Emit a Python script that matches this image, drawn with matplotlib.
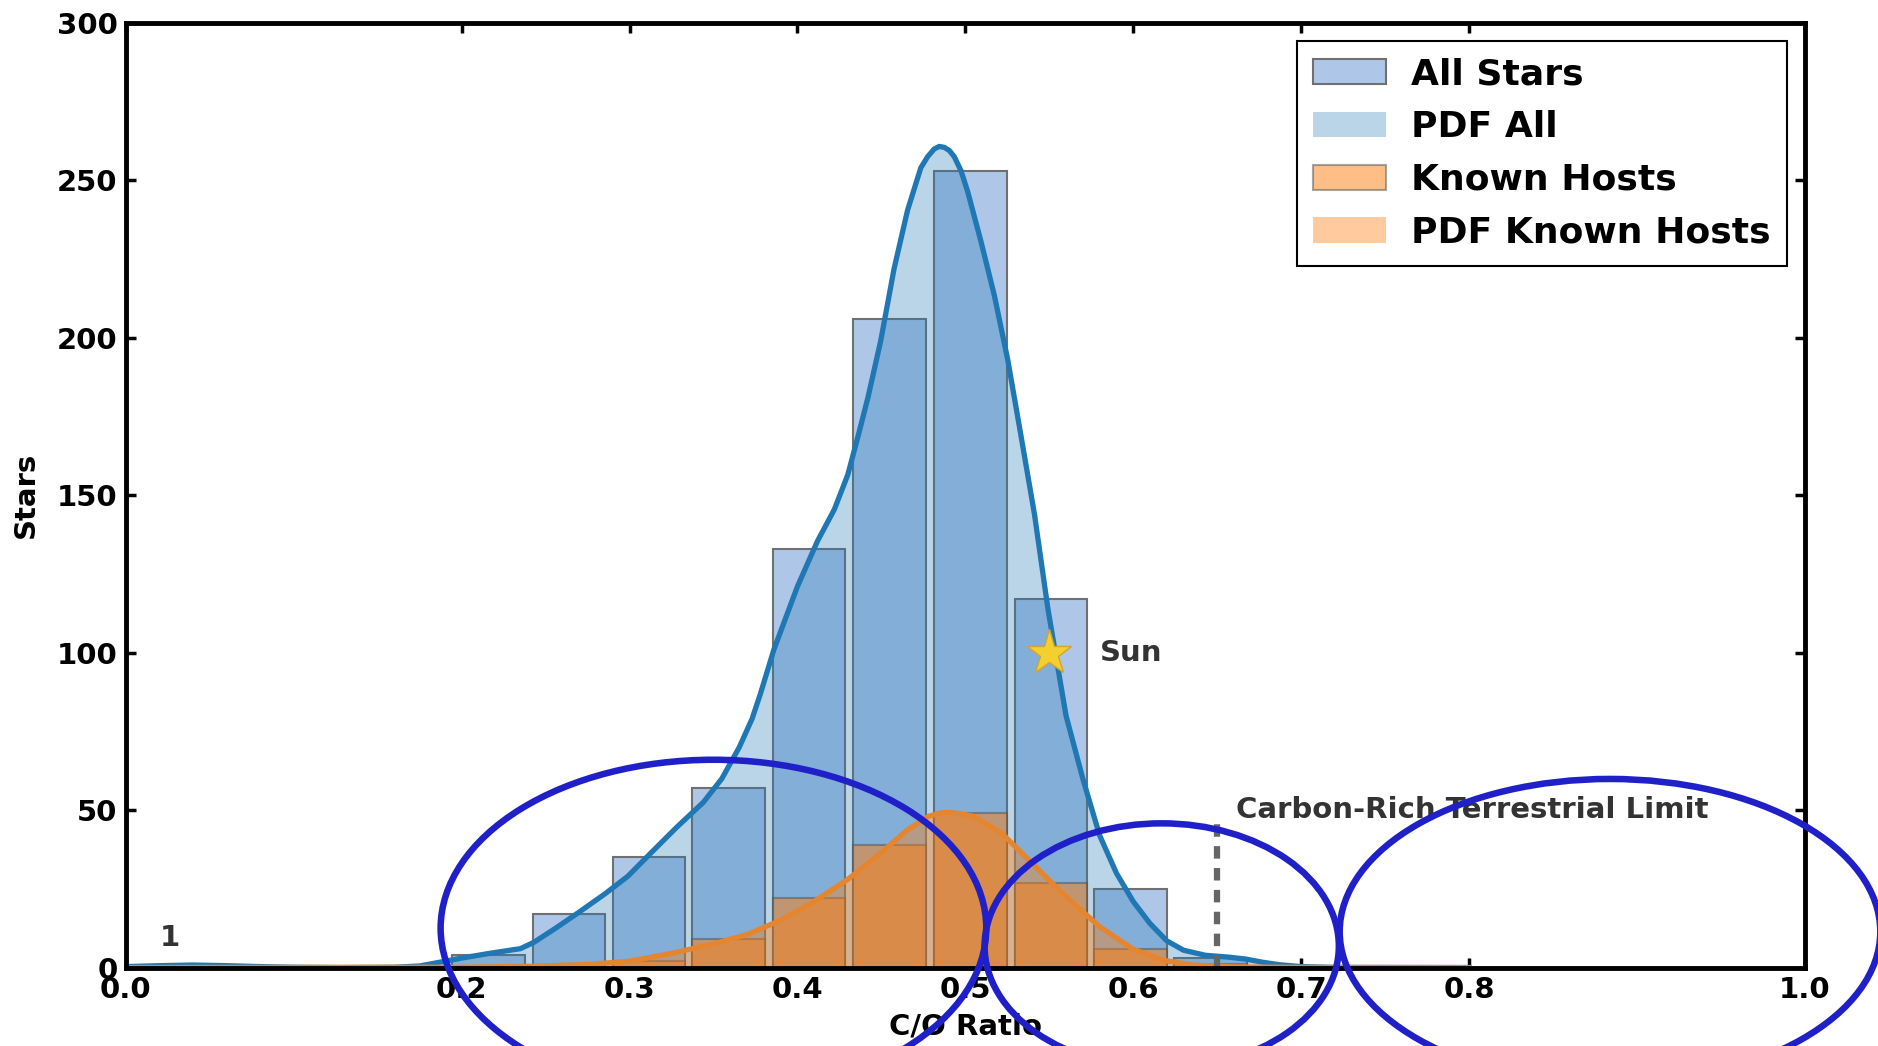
import matplotlib
matplotlib.use('Agg')
import matplotlib.pyplot as plt
from matplotlib.patches import Ellipse
import numpy as np

# histogram bins (C/O ratio) and counts
BIN_EDGES = [0.192, 0.240, 0.288, 0.335, 0.383, 0.431, 0.479, 0.527, 0.575, 0.622, 0.670]
ALL_COUNTS = [4, 17, 35, 57, 133, 206, 253, 117, 25, 3]
HOST_COUNTS = [0, 0, 2, 9, 22, 39, 49, 27, 6, 1]

# smoothed density curves (scaled to star counts)
PDF_ALL_X = [0.00, 0.02, 0.04, 0.06, 0.08, 0.10, 0.13, 0.16, 0.175, 0.19, 0.20, 0.2165,
             0.235, 0.243, 0.256, 0.2697, 0.2856, 0.299, 0.312, 0.328, 0.344, 0.355,
             0.3654, 0.373, 0.378, 0.386, 0.400, 0.412, 0.422, 0.430, 0.436, 0.442,
             0.4496, 0.4576, 0.4656, 0.4735, 0.4775, 0.4815, 0.4845, 0.4875, 0.4905,
             0.4935, 0.4975, 0.5014, 0.5094,
             0.5173, 0.5253, 0.5333, 0.5412, 0.5492, 0.560, 0.570, 0.580, 0.590, 0.600,
             0.610, 0.620, 0.630, 0.643, 0.657, 0.667, 0.677, 0.687, 0.700, 0.720, 0.800]
PDF_ALL_Y = [0.3, 0.6, 0.8, 0.6, 0.3, 0.1, 0.0, 0.1, 0.5, 2.0, 3.0, 4.5,
             6.0, 8.0, 12.5, 17.5, 23.5, 29, 36, 44.5, 52.5, 60,
             70, 79, 87, 101, 121, 135.5, 145.5, 156.5, 168.5, 181,
             199, 222, 240.5, 254, 257.5, 260, 260.8, 260.5, 259.5,
             257.5, 253, 246.5, 230.5,
             213.5, 193, 168.5, 144, 114, 80, 60, 42, 30, 21,
             14, 8.5, 5.5, 3.9, 3.3, 2.7, 1.7, 0.9, 0.3, 0.05, 0.0]

PDF_HOST_X = [0.00, 0.20, 0.24, 0.275, 0.30, 0.325, 0.35, 0.37, 0.39, 0.41, 0.43, 0.45,
              0.465, 0.478, 0.485, 0.49, 0.497, 0.505, 0.522, 0.54, 0.56, 0.58, 0.60,
              0.618, 0.636, 0.66, 0.70, 0.80]
PDF_HOST_Y = [0.0, 0.1, 0.4, 1.0, 2.0, 4.5, 7.5, 10.5, 15, 21, 28, 36.5,
              43.5, 48, 49.1, 49.3, 48.9, 48, 42.5, 33, 22.5, 13, 5.8,
              2.3, 0.8, 0.2, 0.05, 0.0]

SUN = (0.55, 100)
CARBON_LIMIT = 0.65
CARBON_LIMIT_TOP = 45.5
OUTLIER = (0.0264, 9.5)

X_TICKS = [0.0, 0.2, 0.3, 0.4, 0.5, 0.6, 0.7, 0.8, 1.0]
Y_TICKS = [0, 50, 100, 150, 200, 250, 300]

# hand drawn circles: (cx, cy, width, height) in data units
CIRCLES = [(0.350, 12.5, 0.325, 107),
           (0.617, 6.8, 0.211, 78),
           (0.884, 11.4, 0.322, 97)]

plt.rcParams['font.family'] = 'DejaVu Sans'
plt.rcParams['font.weight'] = 'bold'
plt.rcParams['axes.labelweight'] = 'bold'
plt.rcParams['font.size'] = 21


def create_graph():
    fig = plt.figure(figsize=(18.78, 10.46), dpi=100)
    ax = fig.add_axes([0.067, 0.075, 0.894, 0.903])

    edges = np.array(BIN_EDGES)
    centers = (edges[:-1] + edges[1:]) / 2
    width = 0.9 * (edges[1] - edges[0])

    bars_all = ax.bar(centers, ALL_COUNTS, width=width, color='#aec7e8',
                      edgecolor='#707070', linewidth=1.5, label='All Stars', zorder=2)
    pdf_all = ax.fill_between(PDF_ALL_X, PDF_ALL_Y, color='#1f77b4', alpha=0.3,
                              linewidth=0, label='PDF All', zorder=3)
    ax.plot(PDF_ALL_X, PDF_ALL_Y, color='#1f77b4', linewidth=3.8, zorder=4,
            solid_joinstyle='round')

    bars_host = ax.bar(centers, HOST_COUNTS, width=width, color='#ff7f0e', alpha=0.5,
                       edgecolor='#505050', linewidth=1.5, label='Known Hosts', zorder=5)
    pdf_host = ax.fill_between(PDF_HOST_X, PDF_HOST_Y, color='#ff7f0e', alpha=0.4,
                               linewidth=0, label='PDF Known Hosts', zorder=6)
    ax.plot(PDF_HOST_X, PDF_HOST_Y, color='#e6852f', linewidth=3.8, zorder=7,
            solid_joinstyle='round')

    ax.plot(SUN[0], SUN[1], marker='*', markersize=34, markerfacecolor='#f3d02f',
            markeredgecolor='#d4a52a', markeredgewidth=1, zorder=8)
    ax.text(SUN[0] + 0.03, SUN[1], 'Sun', color='#333333', fontsize=21,
            ha='left', va='center', zorder=8)
    ax.text(OUTLIER[0], OUTLIER[1], '1', color='#333333', fontsize=21,
            ha='center', va='center')

    ax.vlines(CARBON_LIMIT, 0, CARBON_LIMIT_TOP, colors='#666666', linewidth=4.5,
              linestyles=(0, (2, 1.5)), zorder=8)
    ax.text(CARBON_LIMIT + 0.011, 50, 'Carbon-Rich Terrestrial Limit', color='#333333',
            fontsize=21, ha='left', va='center')

    ax.set_xlim(0, 1)
    ax.set_ylim(0, 300)
    ax.set_xticks(X_TICKS)
    ax.set_xticklabels(['%.1f' % t for t in X_TICKS])
    ax.set_yticks(Y_TICKS)
    ax.tick_params(direction='in', length=7, width=2.5, top=True, right=True,
                   labelsize=21, pad=6)
    for s in ax.spines.values():
        s.set_linewidth(3.5)
        s.set_zorder(10)

    ax.set_xlabel('C/O Ratio', fontsize=21, fontweight='bold')
    ax.set_ylabel('Stars', fontsize=21, fontweight='bold')
    ax.xaxis.set_label_coords(0.5, -0.048)
    ax.yaxis.set_label_coords(-0.051, 0.5)

    leg = ax.legend([bars_all, pdf_all, bars_host, pdf_host],
                    ['All Stars', 'PDF All', 'Known Hosts', 'PDF Known Hosts'],
                    loc='upper right', fontsize=26, fancybox=False, framealpha=1,
                    edgecolor='black', handlelength=2.0, handletextpad=0.7,
                    labelspacing=0.52, borderpad=0.45)
    leg.get_frame().set_linewidth(1.5)
    leg.set_zorder(11)

    for cx, cy, w, h in CIRCLES:
        ax.add_patch(Ellipse((cx, cy), w, h, fill=False, edgecolor='#2020c8',
                             linewidth=4.7, clip_on=False, zorder=12))

    fig.savefig('out.png', dpi=100)


if __name__ == '__main__':
    create_graph()
